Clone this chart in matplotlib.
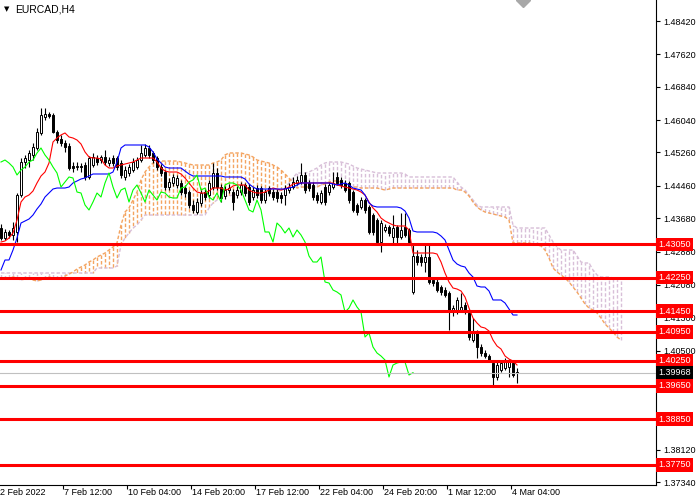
import matplotlib
matplotlib.use('Agg')
import matplotlib.pyplot as plt
import numpy as np

plt.rcParams['font.family'] = ['Liberation Sans', 'DejaVu Sans']
plt.rcParams['lines.scale_dashes'] = False

# EURCAD H4 candles (bar 0 = 2 Feb 20:00)
opens = [
    1.43445, 1.43205, 1.43349, 1.43277, 1.43349, 1.44238, 1.45031, 1.45079, 1.45199, 1.45368,
    1.45729, 1.46113, 1.46185, 1.46161, 1.45753, 1.45584, 1.45488, 1.45416, 1.44935, 1.44911,
    1.44935, 1.44959, 1.44671, 1.44959, 1.45127, 1.45079, 1.45151, 1.45007, 1.45127, 1.45127,
    1.45007, 1.44671, 1.44767, 1.44839, 1.44911, 1.45079, 1.45199, 1.45368, 1.45248, 1.45127,
    1.44911, 1.44791, 1.44430, 1.44527, 1.44479, 1.44527, 1.44406, 1.44310, 1.43998, 1.43830,
    1.44046, 1.44310, 1.44238, 1.44430, 1.44767, 1.44430, 1.44214, 1.44358, 1.44310, 1.44238,
    1.44310, 1.44479, 1.44430, 1.44190, 1.44406, 1.44406, 1.44118, 1.44406, 1.44310, 1.44310,
    1.44238, 1.44238, 1.44358, 1.44430, 1.44527, 1.44551, 1.44719, 1.44527, 1.44479, 1.44238,
    1.44070, 1.44430, 1.44310, 1.44430, 1.44671, 1.44599, 1.44527, 1.44527, 1.44310, 1.43998,
    1.43950, 1.44118, 1.43950, 1.43757, 1.43637, 1.43109, 1.43397, 1.43469, 1.43229, 1.43469,
    1.43229, 1.43469, 1.43397, 1.41907, 1.42772, 1.42748, 1.42628, 1.42748, 1.42195, 1.42147,
    1.42027, 1.41955, 1.41883, 1.41426, 1.41426, 1.41474, 1.41594, 1.41402, 1.40753, 1.40921,
    1.40585, 1.40441, 1.40368, 1.40200, 1.39864, 1.40032, 1.40080, 1.40104, 1.40200, 1.39984,
]
highs = [
    1.43541, 1.43421, 1.43397, 1.43589, 1.44286, 1.45127, 1.45199, 1.45320, 1.45488, 1.45849,
    1.46330, 1.46330, 1.46233, 1.46209, 1.45801, 1.45681, 1.45560, 1.45488, 1.45031, 1.45031,
    1.45007, 1.45031, 1.45175, 1.45248, 1.45199, 1.45199, 1.45320, 1.45151, 1.45199, 1.45175,
    1.45079, 1.44935, 1.44983, 1.45127, 1.45151, 1.45440, 1.45464, 1.45440, 1.45296, 1.45175,
    1.44983, 1.44839, 1.44647, 1.44743, 1.44719, 1.44599, 1.44479, 1.44358, 1.44118, 1.44166,
    1.44358, 1.44382, 1.44599, 1.45007, 1.44887, 1.44502, 1.44455, 1.44502, 1.44382, 1.44455,
    1.44551, 1.44527, 1.44502, 1.44430, 1.44479, 1.44455, 1.44382, 1.44455, 1.44382, 1.44382,
    1.44310, 1.44479, 1.44527, 1.44671, 1.44695, 1.45007, 1.44791, 1.44599, 1.44551, 1.44310,
    1.44358, 1.44502, 1.44551, 1.44791, 1.44791, 1.44671, 1.44599, 1.44575, 1.44358, 1.44046,
    1.44190, 1.44166, 1.43998, 1.43806, 1.43685, 1.43637, 1.43541, 1.43517, 1.43757, 1.43517,
    1.43806, 1.43806, 1.43445, 1.43036, 1.42916, 1.42820, 1.43036, 1.43036, 1.42267, 1.42219,
    1.42075, 1.42027, 1.41931, 1.41594, 1.41787, 1.41883, 1.41667, 1.41450, 1.41282, 1.40993,
    1.40657, 1.40513, 1.40416, 1.40272, 1.40224, 1.40272, 1.40320, 1.40296, 1.40272, 1.40080,
]
lows = [
    1.43157, 1.43157, 1.43205, 1.43157, 1.43109, 1.44190, 1.44887, 1.44911, 1.45079, 1.45320,
    1.45681, 1.46041, 1.46089, 1.45729, 1.45488, 1.45416, 1.45272, 1.44839, 1.44791, 1.44839,
    1.44791, 1.44599, 1.44623, 1.44911, 1.44959, 1.45007, 1.44959, 1.44935, 1.44935, 1.44839,
    1.44647, 1.44599, 1.44695, 1.44791, 1.44863, 1.45031, 1.45151, 1.45127, 1.45007, 1.44839,
    1.44695, 1.44358, 1.44358, 1.44455, 1.44406, 1.44238, 1.44190, 1.43926, 1.43806, 1.43782,
    1.43974, 1.44118, 1.44166, 1.44358, 1.44358, 1.44070, 1.44142, 1.44286, 1.43878, 1.44166,
    1.44238, 1.44214, 1.43998, 1.44118, 1.44166, 1.44046, 1.44046, 1.44214, 1.44118, 1.44070,
    1.44046, 1.43998, 1.44286, 1.44382, 1.44479, 1.44503, 1.44286, 1.44334, 1.44118, 1.44046,
    1.44022, 1.43998, 1.44238, 1.44382, 1.44479, 1.44406, 1.44310, 1.44046, 1.43830, 1.43757,
    1.43902, 1.43806, 1.43301, 1.43277, 1.43036, 1.42868, 1.43349, 1.43253, 1.43036, 1.43085,
    1.43181, 1.43229, 1.43061, 1.41859, 1.42556, 1.42532, 1.42388, 1.42099, 1.42051, 1.41907,
    1.41835, 1.41787, 1.40993, 1.41330, 1.41378, 1.41426, 1.41378, 1.40753, 1.40705, 1.40320,
    1.40368, 1.40320, 1.40224, 1.39672, 1.39792, 1.39984, 1.40032, 1.39864, 1.39864, 1.39720,
]
closes = [
    1.43205, 1.43349, 1.43277, 1.43445, 1.44238, 1.45031, 1.45127, 1.45248, 1.45392, 1.45753,
    1.46161, 1.46185, 1.46137, 1.45753, 1.45560, 1.45488, 1.45392, 1.44887, 1.44887, 1.44935,
    1.44911, 1.44671, 1.45127, 1.45151, 1.45031, 1.45151, 1.45031, 1.45079, 1.45007, 1.44911,
    1.44719, 1.44839, 1.44911, 1.45031, 1.45079, 1.45248, 1.45368, 1.45199, 1.45079, 1.44911,
    1.44767, 1.44430, 1.44551, 1.44671, 1.44647, 1.44310, 1.44286, 1.43998, 1.43878, 1.44070,
    1.44286, 1.44190, 1.44527, 1.44767, 1.44430, 1.44166, 1.44358, 1.44406, 1.44070, 1.44358,
    1.44479, 1.44286, 1.44070, 1.44358, 1.44238, 1.44118, 1.44310, 1.44286, 1.44190, 1.44166,
    1.44166, 1.44406, 1.44430, 1.44551, 1.44599, 1.44719, 1.44358, 1.44406, 1.44190, 1.44118,
    1.44286, 1.44070, 1.44479, 1.44527, 1.44527, 1.44479, 1.44358, 1.44118, 1.43878, 1.43830,
    1.44118, 1.43878, 1.43349, 1.43349, 1.43109, 1.43565, 1.43469, 1.43325, 1.43445, 1.43229,
    1.43397, 1.43277, 1.43109, 1.42772, 1.42628, 1.42628, 1.42748, 1.42147, 1.42123, 1.41955,
    1.41907, 1.41835, 1.41426, 1.41522, 1.41715, 1.41546, 1.41426, 1.40825, 1.40921, 1.40585,
    1.40441, 1.40368, 1.40272, 1.39864, 1.40152, 1.40200, 1.40224, 1.40224, 1.39912, 1.39968,
]

# Ichimoku lines
tenkan = [
    1.43109, 1.43133, 1.43205, 1.43325, 1.43637, 1.44070, 1.44190, 1.44238, 1.44334, 1.44527,
    1.44695, 1.44791, 1.45007, 1.45512, 1.45608, 1.45681, 1.45729, 1.45633, 1.45608, 1.45560,
    1.45464, 1.45272, 1.45151, 1.45127, 1.45127, 1.45103, 1.44959, 1.44887, 1.44887, 1.44935,
    1.44959, 1.44983, 1.45007, 1.45031, 1.45079, 1.45127, 1.45127, 1.45127, 1.45127, 1.45031,
    1.44887, 1.44815, 1.44791, 1.44791, 1.44791, 1.44743, 1.44647, 1.44527, 1.44406, 1.44310,
    1.44286, 1.44286, 1.44334, 1.44406, 1.44406, 1.44406, 1.44358, 1.44382, 1.44455, 1.44479,
    1.44479, 1.44479, 1.44358, 1.44310, 1.44286, 1.44286, 1.44310, 1.44358, 1.44406, 1.44382,
    1.44358, 1.44382, 1.44430, 1.44503, 1.44527, 1.44527, 1.44527, 1.44527, 1.44527, 1.44527,
    1.44527, 1.44527, 1.44527, 1.44527, 1.44479, 1.44455, 1.44430, 1.44406, 1.44382, 1.44358,
    1.44310, 1.44238, 1.44070, 1.43926, 1.43830, 1.43685, 1.43613, 1.43565, 1.43517, 1.43493,
    1.43493, 1.43493, 1.43397, 1.42844, 1.42844, 1.42844, 1.42844, 1.42844, 1.42844, 1.42820,
    1.42628, 1.42364, 1.42147, 1.42003, 1.41979, 1.41931, 1.41787, 1.41522, 1.41282, 1.41162,
    1.41066, 1.41041, 1.40969, 1.40753, 1.40609, 1.40537, 1.40369, 1.40296, 1.40248, 1.40152,
]
kijun = [
    1.42436, 1.42676, 1.42676, 1.42916, 1.43205, 1.43565, 1.43613, 1.43661, 1.43757, 1.43902,
    1.44022, 1.44190, 1.44286, 1.44382, 1.44406, 1.44406, 1.44406, 1.44430, 1.44527, 1.44575,
    1.44623, 1.44647, 1.44695, 1.44743, 1.44743, 1.44743, 1.44743, 1.44743, 1.44791, 1.45031,
    1.45368, 1.45440, 1.45440, 1.45440, 1.45440, 1.45440, 1.45440, 1.45392, 1.45272, 1.45103,
    1.45007, 1.44911, 1.44887, 1.44887, 1.44887, 1.44887, 1.44815, 1.44743, 1.44695, 1.44695,
    1.44695, 1.44695, 1.44695, 1.44695, 1.44695, 1.44695, 1.44671, 1.44671, 1.44671, 1.44671,
    1.44671, 1.44623, 1.44503, 1.44430, 1.44382, 1.44382, 1.44382, 1.44382, 1.44382, 1.44382,
    1.44382, 1.44382, 1.44406, 1.44430, 1.44479, 1.44527, 1.44527, 1.44527, 1.44527, 1.44527,
    1.44527, 1.44527, 1.44527, 1.44503, 1.44479, 1.44503, 1.44527, 1.44479, 1.44406, 1.44382,
    1.44358, 1.44238, 1.44046, 1.43974, 1.43950, 1.43950, 1.43950, 1.43950, 1.43950, 1.43950,
    1.43926, 1.43854, 1.43685, 1.43373, 1.43349, 1.43349, 1.43349, 1.43349, 1.43349, 1.43325,
    1.43253, 1.43157, 1.42916, 1.42676, 1.42580, 1.42532, 1.42508, 1.42364, 1.42267, 1.42051,
    1.42027, 1.42027, 1.41931, 1.41715, 1.41715, 1.41715, 1.41643, 1.41498, 1.41354, 1.41354,
]
span_a = [
    1.42243, 1.42219, 1.42243, 1.42267, 1.42243, 1.42195, 1.42219, 1.42243, 1.42195, 1.42171,
    1.42195, 1.42219, 1.42267, 1.42243, 1.42219, 1.42243, 1.42292, 1.42340, 1.42388, 1.42460,
    1.42508, 1.42556, 1.42628, 1.42676, 1.42748, 1.42796, 1.42844, 1.42916, 1.42989, 1.43085,
    1.43517, 1.43830, 1.43926, 1.44118, 1.44310, 1.44599, 1.44791, 1.44911, 1.45007, 1.45031,
    1.45055, 1.45055, 1.45055, 1.45055, 1.45055, 1.45031, 1.45007, 1.44983, 1.44959, 1.44959,
    1.44959, 1.44959, 1.44959, 1.45007, 1.45031, 1.45079, 1.45200, 1.45248, 1.45248, 1.45248,
    1.45248, 1.45224, 1.45200, 1.45152, 1.45079, 1.45055, 1.45031, 1.45007, 1.44959, 1.44911,
    1.44839, 1.44743, 1.44647, 1.44527, 1.44406, 1.44430, 1.44430, 1.44430, 1.44430, 1.44430,
    1.44479, 1.44503, 1.44551, 1.44575, 1.44575, 1.44551, 1.44503, 1.44455, 1.44430, 1.44430,
    1.44406, 1.44406, 1.44406, 1.44406, 1.44406, 1.44382, 1.44358, 1.44382, 1.44406, 1.44406,
    1.44406, 1.44406, 1.44406, 1.44406, 1.44406, 1.44406, 1.44406, 1.44406, 1.44406, 1.44406,
    1.44406, 1.44406, 1.44406, 1.44406, 1.44358, 1.44358, 1.44310, 1.44214, 1.44070, 1.43950,
    1.43878, 1.43830, 1.43806, 1.43782, 1.43757, 1.43733, 1.43709, 1.43637, 1.43085, 1.43085,
    1.43085, 1.43085, 1.43085, 1.43061, 1.43037, 1.43013, 1.42916, 1.42724, 1.42484, 1.42388,
    1.42316, 1.42243, 1.42147, 1.42027, 1.41907, 1.41763, 1.41619, 1.41522, 1.41474, 1.41402,
    1.41282, 1.41138, 1.41041, 1.40945, 1.40825, 1.40753,
]
span_b = [
    1.42364, 1.42364, 1.42364, 1.42364, 1.42364, 1.42364, 1.42364, 1.42364, 1.42364, 1.42364,
    1.42364, 1.42364, 1.42364, 1.42364, 1.42364, 1.42364, 1.42364, 1.42364, 1.42364, 1.42364,
    1.42364, 1.42364, 1.42364, 1.42364, 1.42484, 1.42484, 1.42484, 1.42484, 1.42484, 1.42532,
    1.43037, 1.43205, 1.43325, 1.43445, 1.43517, 1.43637, 1.43757, 1.43757, 1.43757, 1.43757,
    1.43757, 1.43757, 1.43757, 1.43757, 1.43757, 1.43757, 1.43757, 1.43757, 1.43757, 1.43757,
    1.43757, 1.43757, 1.43926, 1.44046, 1.44118, 1.44190, 1.44214, 1.44214, 1.44238, 1.44262,
    1.44286, 1.44286, 1.44286, 1.44262, 1.44238, 1.44238, 1.44238, 1.44262, 1.44286, 1.44310,
    1.44358, 1.44406, 1.44527, 1.44647, 1.44767, 1.44767, 1.44767, 1.44791, 1.44839, 1.44887,
    1.44959, 1.45007, 1.45031, 1.45031, 1.45031, 1.45031, 1.45007, 1.44983, 1.44935, 1.44887,
    1.44863, 1.44839, 1.44815, 1.44791, 1.44767, 1.44767, 1.44767, 1.44767, 1.44767, 1.44767,
    1.44767, 1.44743, 1.44671, 1.44671, 1.44671, 1.44671, 1.44671, 1.44671, 1.44671, 1.44671,
    1.44671, 1.44671, 1.44671, 1.44671, 1.44551, 1.44430, 1.44358, 1.44238, 1.44118, 1.43998,
    1.43950, 1.43950, 1.43950, 1.43950, 1.43950, 1.43950, 1.43950, 1.43950, 1.43517, 1.43445,
    1.43445, 1.43445, 1.43445, 1.43445, 1.43445, 1.43445, 1.43445, 1.43277, 1.43109, 1.42989,
    1.42916, 1.42916, 1.42916, 1.42916, 1.42772, 1.42628, 1.42604, 1.42604, 1.42436, 1.42316,
    1.42267, 1.42267, 1.42267, 1.42243, 1.42243, 1.42243,
]

levels = [1.43050, 1.42250, 1.41450, 1.40950, 1.40250, 1.39650, 1.38850, 1.37750]
last_price = 1.39968
yticks = [1.48420, 1.47620, 1.46840, 1.46040, 1.45260, 1.44460, 1.43680,
          1.42880, 1.42080, 1.41300, 1.40500, 1.38120, 1.37340]
xlabels = ['2 Feb 2022', '7 Feb 12:00', '10 Feb 04:00', '14 Feb 20:00', '17 Feb 12:00',
           '22 Feb 04:00', '24 Feb 20:00', '1 Mar 12:00', '4 Mar 04:00']
chikou_shift = 26

o = np.array(opens); h = np.array(highs); l = np.array(lows); c = np.array(closes)
bars = np.arange(len(c))
sa = np.array(span_a); sb = np.array(span_b)
cloud_x = np.arange(len(sa))

fig = plt.figure(figsize=(7, 5), dpi=100)
ax = fig.add_axes([0, 15 / 500, 656 / 700, 485 / 500])
ax.set_xlim(-0.25, 163.75)
ax.set_ylim(1.37268, 1.48925)

# kumo: dotted vertical hatching between the spans
up = sa >= sb
cols = np.where(up, '#F4A460', '#D8BFD8')
ax.vlines(cloud_x, sa, sb, colors=cols, linestyles=(0, (2.5, 1.5)), lw=1.0, zorder=1)
ax.plot(cloud_x, sb, color='#D8BFD8', lw=1.0, ls=(0, (2.5, 1.5)), zorder=1.2)
ax.plot(cloud_x, sa, color='#F4A460', lw=1.0, ls=(0, (2.5, 1.5)), zorder=1.3)

# candles
ax.vlines(bars, l, h, color='black', lw=0.8, zorder=3)
bull = c >= o
body_lo = np.minimum(o, c)
body_h = np.maximum(np.abs(c - o), 0.00003)
ax.bar(bars, body_h, bottom=body_lo, width=0.5,
       color=np.where(bull, 'white', 'black'), edgecolor='black', linewidth=0.7, zorder=3.1)

# ichimoku lines
ax.plot(bars, tenkan, color='#FF0000', lw=0.8, zorder=3.5)
ax.plot(bars, kijun, color='#0000FF', lw=0.8, zorder=3.5)
ax.plot(bars[:-chikou_shift], c[chikou_shift:], color='#00FF00', lw=0.8, zorder=3.5)

for lv in levels:
    ax.axhline(lv, color='red', lw=2.2, zorder=4)
ax.axhline(last_price, color='#C0C0C0', lw=0.8, zorder=3.9)

# chart shift marker
ax.plot([130.5], [1.48925], marker='D', ms=7, color='#A8A8A8', clip_on=True, zorder=5)

for s in ['left', 'top']:
    ax.spines[s].set_visible(False)
for s in ['right', 'bottom']:
    ax.spines[s].set_linewidth(0.8)

ax.yaxis.tick_right()
ax.set_yticks(yticks)
ax.set_yticklabels([f'{v:.5f}' for v in yticks])
ax.tick_params(axis='y', direction='out', length=3, width=0.8, labelsize=6.5, pad=2)
ax.set_xticks([16 * k - 0.5 for k in range(1, len(xlabels))])
ax.set_xticklabels([])
ax.tick_params(axis='x', direction='out', length=3, width=0.8)
for k, lab in enumerate(xlabels):
    ax.text(16 * k - 0.3, -0.007, lab, transform=ax.get_xaxis_transform(),
            ha='left', va='top', fontsize=6.5, clip_on=False)

for lv in levels:
    ax.text(1.003, lv, f'{lv:.5f}', transform=ax.get_yaxis_transform(), ha='left', va='center',
            fontsize=6.5, color='white', zorder=10, clip_on=False,
            bbox=dict(boxstyle='square,pad=0.25', fc='red', ec='none'))
ax.text(1.003, last_price, f'{last_price:.5f}', transform=ax.get_yaxis_transform(), ha='left',
        va='center', fontsize=6.5, color='white', zorder=10, clip_on=False,
        bbox=dict(boxstyle='square,pad=0.25', fc='black', ec='none'))

fig.text(4 / 700, 1 - 9 / 500, '\u25bc', fontsize=5, family='DejaVu Sans', va='center')
fig.text(15 / 700, 1 - 10 / 500, 'EURCAD,H4', fontsize=7.5, va='center')

fig.savefig('out.png', dpi=100)
